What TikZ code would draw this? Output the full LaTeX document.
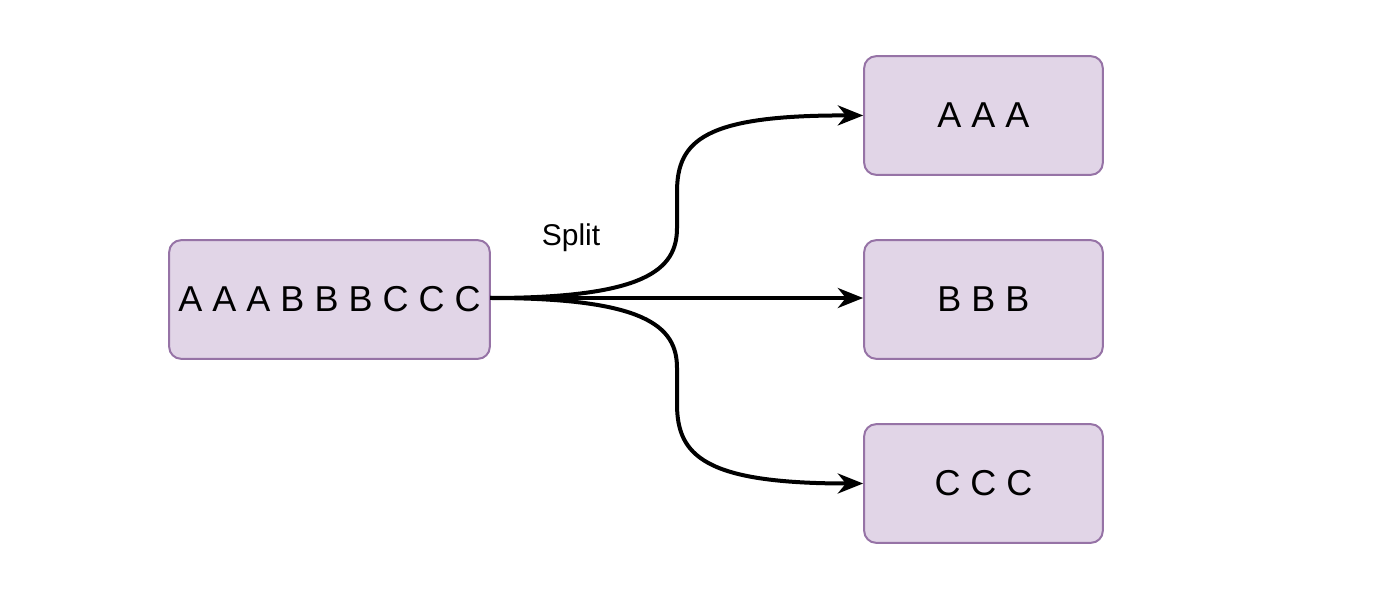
\documentclass[tikz,border=0pt]{standalone}
\usepackage{fontspec}
\setmainfont{Liberation Sans}
\usetikzlibrary{arrows.meta}
\definecolor{boxfill}{HTML}{E1D5E7}
\definecolor{boxline}{HTML}{9673A6}
\begin{document}
\begin{tikzpicture}[x=0.75pt,y=-0.75pt,
  box/.style={draw=boxline,fill=boxfill,line width=1.5pt,rounded corners=9pt,
    minimum height=89pt,inner sep=0pt,font=\fontsize{27pt}{30pt}\selectfont},
  conn/.style={line width=3pt,-{Stealth[length=19pt,width=15pt,inset=6pt]}}]
\useasboundingbox (0,0) rectangle (1382,616);
\node[box,minimum width=240.5pt] (src) at (329.5,299.5) {\raisebox{-1.5pt}{A A A B B B C C C}};
\node[box,minimum width=179pt] (a) at (983.5,115.5) {\raisebox{-1.5pt}{A A A}};
\node[box,minimum width=179pt] (b) at (983.5,299.5) {\raisebox{-1.5pt}{B B B}};
\node[box,minimum width=179pt] (c) at (983.5,483.5) {\raisebox{-1.5pt}{C C C}};
\coordinate (s) at (490,298);
\draw[conn] (s) .. controls (645,298) and (677,270) .. (677,228) -- (677,192)
  .. controls (677,140) and (705,115) .. (a.west);
\draw[conn] (s) -- (s -| b.west);
\draw[conn] (s) .. controls (645,298) and (677,326) .. (677,368) -- (677,404)
  .. controls (677,456) and (705,483.5) .. (c.west);
\node[font=\fontsize{22.5pt}{26pt}\selectfont] (lbl) at (571,238) {Split};
\end{tikzpicture}
\end{document}
